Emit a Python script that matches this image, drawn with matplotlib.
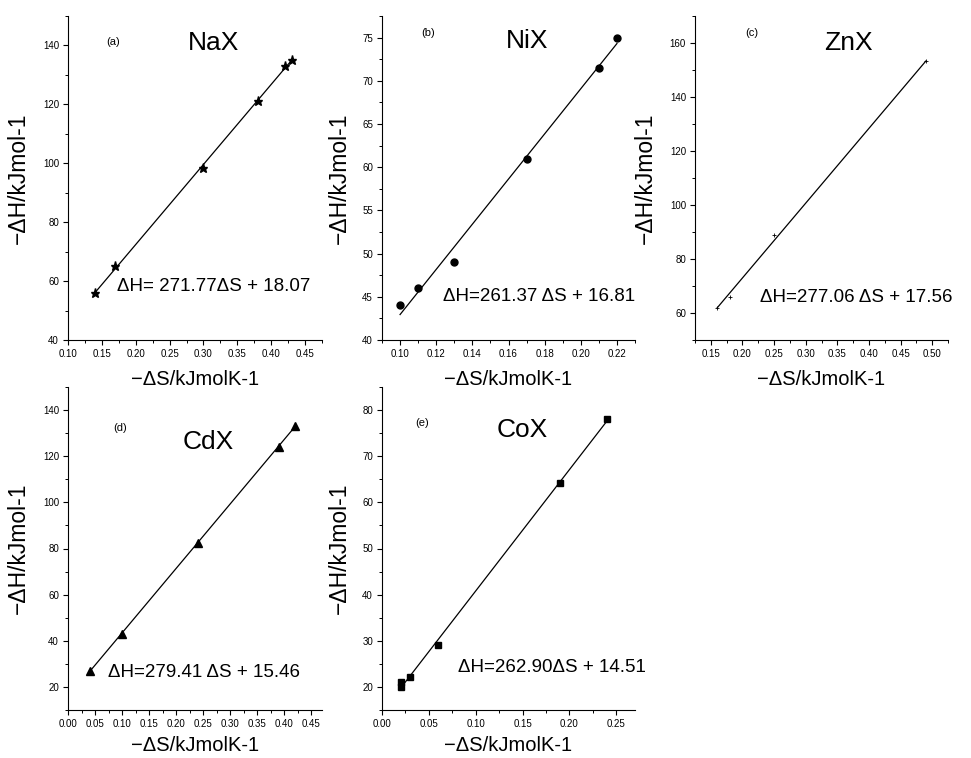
import numpy as np
import matplotlib
matplotlib.use("Agg")
import matplotlib.pyplot as plt
from matplotlib.ticker import MultipleLocator, FormatStrFormatter

plt.rcParams['font.family'] = ['Liberation Sans', 'DejaVu Sans']

# -dS (kJ/mol K) and -dH (kJ/mol)
nax_s = [0.14, 0.17, 0.30, 0.38, 0.42, 0.43]
nax_h = [56, 65, 98.5, 121, 133, 135]

nix_s = [0.10, 0.11, 0.13, 0.17, 0.21, 0.22]
nix_h = [44, 46, 49, 61, 71.5, 75]

znx_s = [0.16, 0.18, 0.25, 0.49]
znx_h = [62, 66, 89, 153.5]

cdx_s = [0.04, 0.10, 0.24, 0.39, 0.42]
cdx_h = [27, 43, 82.5, 124, 133]

cox_s = [0.02, 0.02, 0.03, 0.06, 0.19, 0.24]
cox_h = [20, 21, 22.2, 29, 64.2, 78]

# fitted lines given on the plots
slopes = [271.77, 261.37, 277.06, 279.41, 262.90]
intercepts = [18.07, 16.81, 17.56, 15.46, 14.51]
equations = ["\u0394H= 271.77\u0394S + 18.07",
             "\u0394H=261.37 \u0394S + 16.81",
             "\u0394H=277.06 \u0394S + 17.56",
             "\u0394H=279.41 \u0394S + 15.46",
             "\u0394H=262.90\u0394S + 14.51"]
names = ["NaX", "NiX", "ZnX", "CdX", "CoX"]
tags = ["(a)", "(b)", "(c)", "(d)", "(e)"]

W, H = 971, 758
fig = plt.figure(figsize=(W / 100, H / 100), dpi=100)


def make_axes(l, r, t, b):
    ax = fig.add_axes([l / W, 1 - b / H, (r - l) / W, (b - t) / H])
    ax.set_facecolor('none')
    return ax


def panel(ax, s, h, k, name, tag, eq, marker, ms, xlim, ylim, xmaj, ymaj,
          tagpos, namepos, eqpos, ylab_off, xlab_off):
    s = np.array(s)
    xx = np.array([s.min(), s.max()])
    ax.plot(xx, slopes[k] * xx + intercepts[k], color='black', lw=0.9)
    if marker in ('+', 'x', '1'):
        ax.plot(s, h, linestyle='none', marker=marker, ms=ms, color='black',
                mew=0.6)
    else:
        ax.plot(s, h, linestyle='none', marker=marker, ms=ms, color='black')
    ax.set_xlim(*xlim)
    ax.set_ylim(*ylim)
    ax.xaxis.set_major_locator(MultipleLocator(xmaj))
    ax.xaxis.set_minor_locator(MultipleLocator(xmaj / 2))
    ax.yaxis.set_major_locator(MultipleLocator(ymaj))
    ax.yaxis.set_minor_locator(MultipleLocator(ymaj / 2))
    ax.xaxis.set_major_formatter(FormatStrFormatter('%.2f'))
    ax.yaxis.set_major_formatter(FormatStrFormatter('%d'))
    for sp in ('top', 'right'):
        ax.spines[sp].set_visible(False)
    for sp in ('left', 'bottom'):
        ax.spines[sp].set_linewidth(0.8)
    ax.tick_params(which='major', direction='out', length=3.5, width=0.8,
                   labelsize=7, pad=3)
    ax.tick_params(which='minor', direction='out', length=2, width=0.7)
    ax.set_xlabel("\u2212\u0394S/kJmolK-1", fontsize=14.5)
    ax.set_ylabel("\u2212\u0394H/kJmol-1", fontsize=16.5)
    bb = ax.get_position()
    ax.yaxis.set_label_coords(-ylab_off / (bb.width * W), 0.5)
    ax.xaxis.set_label_coords(0.5, -xlab_off / (bb.height * H))
    ax.text(*tagpos, tag, transform=ax.transAxes, fontsize=8,
            ha='center', va='center')
    ax.text(*namepos, name, transform=ax.transAxes, fontsize=19,
            ha='center', va='center')
    ax.text(*eqpos, eq, transform=ax.transAxes, fontsize=13.5,
            ha='left', va='center')


ax_a = make_axes(68, 322, 16, 340)
panel(ax_a, nax_s, nax_h, 0, names[0], tags[0], equations[0], '*', 6.5,
      (0.10, 0.475), (40, 150), 0.05, 20,
      (0.177, 0.92), (0.575, 0.917), (0.193, 0.164), 38, 30)

ax_b = make_axes(382, 635, 16, 340)
panel(ax_b, nix_s, nix_h, 1, names[1], tags[1], equations[1], 'o', 5,
      (0.09, 0.23), (40, 77.5), 0.02, 5,
      (0.182, 0.948), (0.573, 0.923), (0.241, 0.133), 31, 30)

ax_c = make_axes(695, 948, 16, 340)
panel(ax_c, znx_s, znx_h, 2, names[2], tags[2], equations[2], '+', 3,
      (0.125, 0.525), (50, 170), 0.05, 20,
      (0.225, 0.948), (0.605, 0.917), (0.257, 0.13), 38, 30)

ax_d = make_axes(68, 322, 387, 710)
panel(ax_d, cdx_s, cdx_h, 3, names[3], tags[3], equations[3], '^', 5.5,
      (0.0, 0.47), (10, 150), 0.05, 20,
      (0.205, 0.873), (0.551, 0.83), (0.157, 0.115), 38, 26)

ax_e = make_axes(382, 635, 387, 710)
panel(ax_e, cox_s, cox_h, 4, names[4], tags[4], equations[4], 's', 4.5,
      (0.0, 0.27), (15, 85), 0.05, 10,
      (0.158, 0.889), (0.553, 0.867), (0.30, 0.133), 31, 26)

fig.savefig("out.png", dpi=100)
